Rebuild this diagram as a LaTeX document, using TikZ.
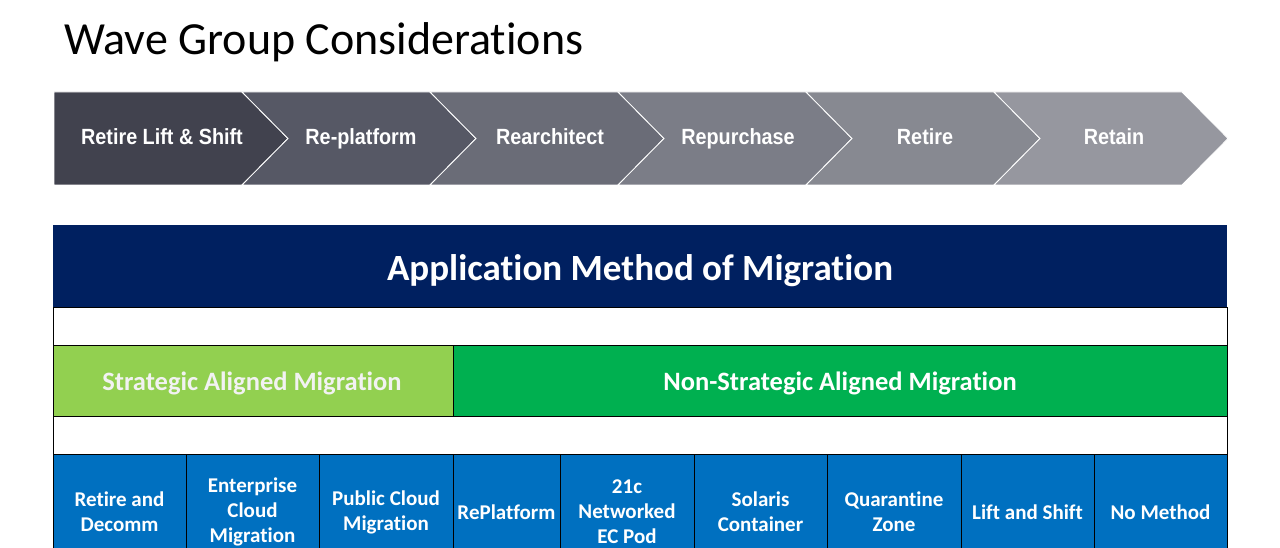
\documentclass[tikz,border=0pt]{standalone}
\usepackage{fontspec}
\setmainfont{Carlito}[Ligatures={CommonOff,ContextualOff}]
\newfontfamily\arialfont{Liberation Sans}[FakeStretch=0.9]
\newcommand{\zk}{\kern0pt }
\definecolor{chA}{HTML}{41424E}
\definecolor{chB}{HTML}{565865}
\definecolor{chC}{HTML}{6A6C77}
\definecolor{chD}{HTML}{7B7D87}
\definecolor{chE}{HTML}{878991}
\definecolor{chF}{HTML}{96979F}
\definecolor{navy}{HTML}{002060}
\definecolor{lgreen}{HTML}{92D050}
\definecolor{dgreen}{HTML}{00B050}
\definecolor{mblue}{HTML}{0070C0}
\tikzset{
  chevtext/.style={text=white, font=\arialfont\bfseries\fontsize{22}{26}\selectfont, inner sep=0pt, anchor=base},
  cellline/.style={draw=black, line width=1pt},
  celltext/.style={text=white, font=\bfseries\fontsize{21}{25}\selectfont, align=center, inner sep=0pt},
}
\begin{document}
\begin{tikzpicture}[x=1pt,y=-1pt]
\clip (0,0) rectangle (1280,548);
\fill[white] (0,0) rectangle (1280,548);
% title
\node[anchor=base west, inner sep=0pt, font=\fontsize{46}{50}\selectfont] (title) at (64,55) {Wave Group Considerat\zk ions};
% chevrons
\fill[chA, draw=white, line width=0.8pt] (54,92) -- (242,92) -- (288,138.5) -- (242,185) -- (54,185) -- cycle;
\foreach \i/\c in {1/chB,2/chC,3/chD,4/chE,5/chF}{
  \pgfmathsetmacro{\L}{54+188*\i}
  \fill[\c, draw=white, line width=0.8pt] (\L,92) -- (\L+188,92) -- (\L+234,138.5) -- (\L+188,185) -- (\L,185) -- (\L+46,138.5) -- cycle;
}
\node[chevtext] (c1) at (162,145) {Retire Lift \& Shift};
\node[chevtext] (c2) at (361,145) {Re-platform};
\node[chevtext] (c3) at (550,145) {Rearchitect};
\node[chevtext] (c4) at (738,145) {Repurchase};
\node[chevtext] (c5) at (925,145) {Retire};
\node[chevtext] (c6) at (1114,145) {Retain};
% table
\fill[navy] (53,225) rectangle (1227,307);
\node[anchor=base, inner sep=0pt, text=white, font=\bfseries\fontsize{37}{40}\selectfont] (hdr) at (640,280) {Applicat\zk ion Method of Migrat\zk ion};
\draw[cellline, fill=white] (53,307) rectangle (1227,345);
\draw[cellline, fill=lgreen] (53,345) rectangle (453,416);
\draw[cellline, fill=dgreen] (453,345) rectangle (1227,416);
\node[anchor=base, inner sep=0pt, text=white!95!black, font=\bfseries\fontsize{26.5}{30}\selectfont] (sam) at (252,390) {Strategic Aligned Migrat\zk ion};
\node[anchor=base, inner sep=0pt, text=white, font=\bfseries\fontsize{26.5}{30}\selectfont] (nsam) at (840,390) {Non-Strategic Aligned Migrat\zk ion};
\draw[cellline, fill=white] (53,416) rectangle (1227,454);
\foreach \a/\b/\t [count=\k] in {53/186/{Retire and\\Decomm}, 186/319/{Enterprise\\Cloud\\Migrat\zk ion}, 319/453/{Public Cloud\\Migrat\zk ion}, 453/560/{RePlatform}, 560/694/{21c\\Networked\\EC Pod}, 694/827/{Solaris\\Container}, 827/961/{Quarant\zk ine\\Zone}, 961/1094/{Lift and Shift}, 1094/1227/{No Method}}{
  \draw[cellline, fill=mblue] (\a,454) rectangle (\b,570);
  \node[celltext] (m\k) at ({(\a+\b)/2},512) {\t};
}
\end{tikzpicture}
\end{document}
